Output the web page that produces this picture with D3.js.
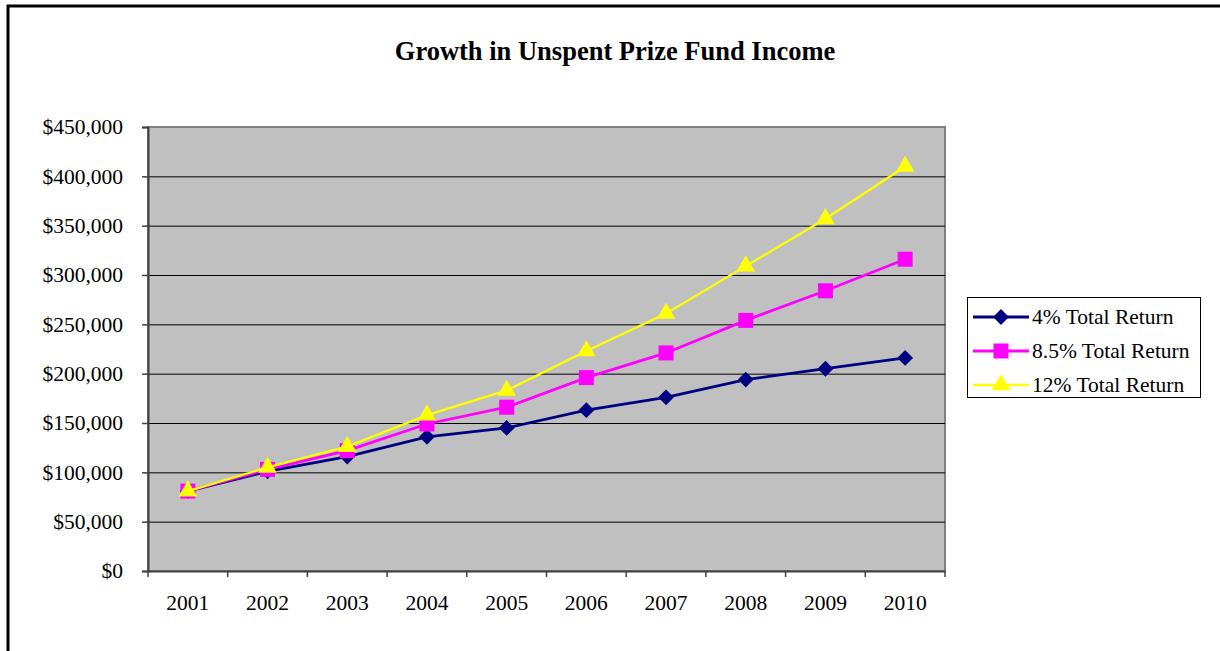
<!DOCTYPE html>
<html>
<head>
<meta charset="utf-8">
<script src="https://cdn.jsdelivr.net/npm/d3@7"></script>
<style>
  body { margin: 0; background: #fff; }
  svg text { font-family: "Liberation Serif", "Times New Roman", serif; fill: #000; }
</style>
</head>
<body>
<svg id="chart"></svg>
<script>
// data
const years = ['2001', '2002', '2003', '2004', '2005', '2006', '2007', '2008', '2009', '2010'];
const return4 = [81000, 101000, 116000, 136000, 145000, 163000, 176000, 194000, 205000, 216000];
const return85 = [81000, 103000, 122000, 149000, 166000, 196000, 221000, 254000, 284000, 316000];
const return12 = [81000, 105000, 126000, 158000, 183000, 223000, 261000, 309000, 357000, 410000];
const yTicks = [0, 50000, 100000, 150000, 200000, 250000, 300000, 350000, 400000, 450000];
const seriesNames = ['4% Total Return', '8.5% Total Return', '12% Total Return'];

const width = 1220, height = 651;
const plot = { left: 148, top: 127, right: 945, bottom: 571 };

const svg = d3.select('#chart')
    .attr('width', width)
    .attr('height', height);

// outer chart frame (runs off the right and bottom of the picture)
svg.append('rect')
    .attr('x', 8).attr('y', 6)
    .attr('width', 1300).attr('height', 700)
    .attr('fill', 'none')
    .attr('stroke', '#000')
    .attr('stroke-width', 3);

svg.append('text')
    .attr('x', 615).attr('y', 60)
    .attr('text-anchor', 'middle')
    .style('font-size', '26.5px')
    .style('font-weight', 'bold')
    .text('Growth in Unspent Prize Fund Income');

const xScale = d3.scaleBand()
    .domain(years)
    .range([plot.left, plot.right])
    .padding(0);

const yScale = d3.scaleLinear()
    .domain([0, 450000])
    .range([plot.bottom, plot.top]);

const xc = d => xScale(d) + xScale.bandwidth() / 2;

// plot area
svg.append('rect')
    .attr('x', plot.left).attr('y', plot.top)
    .attr('width', plot.right - plot.left)
    .attr('height', plot.bottom - plot.top)
    .attr('fill', '#c0c0c0')
    .attr('stroke', '#808080')
    .attr('stroke-width', 2);

// gridlines
svg.append('g')
    .selectAll('line')
    .data(yTicks.filter(d => d > 0 && d < 450000))
    .join('line')
    .attr('x1', plot.left).attr('x2', plot.right)
    .attr('y1', d => yScale(d) + 0.5).attr('y2', d => yScale(d) + 0.5)
    .attr('stroke', '#000')
    .attr('stroke-width', 1);

// y axis
const yAxis = d3.axisLeft(yScale)
    .tickValues(yTicks)
    .tickSize(6)
    .tickPadding(19)
    .tickFormat(d3.format('$,'));

const yAxisG = svg.append('g')
    .attr('transform', `translate(${plot.left},0)`)
    .call(yAxis);
yAxisG.select('.domain').attr('stroke', '#404040').attr('stroke-width', 2);
yAxisG.selectAll('.tick line').attr('stroke', '#404040').attr('stroke-width', 1.5);
yAxisG.selectAll('text').style('font-size', '21.5px').attr('font-family', null);

// x axis: labels centred in each band, ticks on band edges
const xAxis = d3.axisBottom(xScale)
    .tickSize(0)
    .tickPadding(24);

const xAxisG = svg.append('g')
    .attr('transform', `translate(0,${plot.bottom})`)
    .call(xAxis);
xAxisG.select('.domain').attr('stroke', '#404040').attr('stroke-width', 2);
xAxisG.selectAll('text').style('font-size', '21.5px').attr('font-family', null);

svg.append('g')
    .selectAll('line')
    .data(years.concat(['end']))
    .join('line')
    .attr('x1', d => d === 'end' ? plot.right : xScale(d))
    .attr('x2', d => d === 'end' ? plot.right : xScale(d))
    .attr('y1', plot.bottom).attr('y2', plot.bottom + 6)
    .attr('stroke', '#404040')
    .attr('stroke-width', 1.5);

// series
const series = [
  { name: seriesNames[0], values: return4, color: '#000080', symbol: d3.symbolSquare, size: 125, rotate: 45, width: 2.8 },
  { name: seriesNames[1], values: return85, color: '#ff00ff', symbol: d3.symbolSquare, size: 225, rotate: 0, width: 2.8 },
  { name: seriesNames[2], values: return12, color: '#ffff00', symbol: d3.symbolTriangle, size: 150, rotate: 0, width: 2.3 }
];

const line = d3.line()
    .x((d, i) => xc(years[i]))
    .y(d => yScale(d));

series.forEach(s => {
  const g = svg.append('g');
  g.append('path')
      .datum(s.values)
      .attr('fill', 'none')
      .attr('stroke', s.color)
      .attr('stroke-width', s.width)
      .attr('d', line);
  g.selectAll('path.marker')
      .data(s.values)
      .join('path')
      .attr('class', 'marker')
      .attr('transform', (d, i) => `translate(${xc(years[i])},${yScale(d)}) rotate(${s.rotate})`)
      .attr('d', d3.symbol().type(s.symbol).size(s.size))
      .attr('fill', s.color);
});

// legend
const legend = svg.append('g');
legend.append('rect')
    .attr('x', 967.5).attr('y', 297.5)
    .attr('width', 233).attr('height', 100)
    .attr('fill', '#fff')
    .attr('stroke', '#000')
    .attr('stroke-width', 1);

series.forEach((s, i) => {
  const y = 317 + i * 34;
  legend.append('line')
      .attr('x1', 973).attr('x2', 1029)
      .attr('y1', y).attr('y2', y)
      .attr('stroke', s.color)
      .attr('stroke-width', s.width);
  legend.append('path')
      .attr('transform', `translate(1001,${y}) rotate(${s.rotate})`)
      .attr('d', d3.symbol().type(s.symbol).size(s.size))
      .attr('fill', s.color);
  legend.append('text')
      .attr('x', 1032).attr('y', y + 7)
      .style('font-size', '21.5px')
      .text(s.name);
});
</script>
</body>
</html>
